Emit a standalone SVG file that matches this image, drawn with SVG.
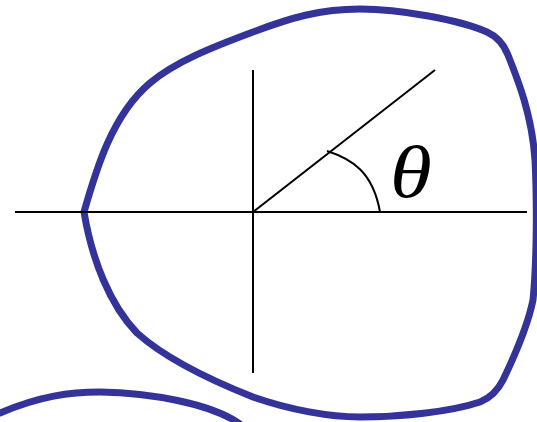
<svg xmlns="http://www.w3.org/2000/svg" width="537" height="422" viewBox="0 0 537 422">
<style>
.blob{fill:none;stroke:#333399;stroke-width:7;stroke-linejoin:round;stroke-linecap:round}
.ax{fill:none;stroke:#000;stroke-width:2}
.lbl{font-family:"Liberation Serif","DejaVu Serif",serif;font-style:italic;fill:#000}
</style>
<rect width="537" height="422" fill="#fff"/>
<g id="curves">
<path id="blob" class="blob" d="M84,212 C96,170 112,115 150,83 C175,62 210,48 253,32 C290,18 320,9 360,9 C400,9 460,20 487,32 C498,37 504,45 508,55 C518,80 532,115 535,160 C537,200 537,260 533,300 C528,325 515,355 503,380 C497,392 490,398 480,402 C450,412 400,417 360,417 C330,417 290,410 253,397 C210,380 165,358 137,333 C110,305 92,260 84,212 Z"/>
<path id="blob2" class="blob" d="M0,413 C40,396 70,392 100,392 C150,393 210,403 240,424"/>
</g>
<g id="axes">
<line class="ax" x1="15" y1="212" x2="527" y2="212"/>
<line class="ax" x1="253" y1="70" x2="253" y2="373"/>
<line class="ax" x1="253" y1="212" x2="435" y2="70"/>
<path class="ax" d="M327,151 C352,159 373,172 380,212"/>
</g>
<g id="label">
<text class="lbl" transform="translate(390,197) scale(1.15,1)" font-size="74">θ</text>
</g>
</svg>
